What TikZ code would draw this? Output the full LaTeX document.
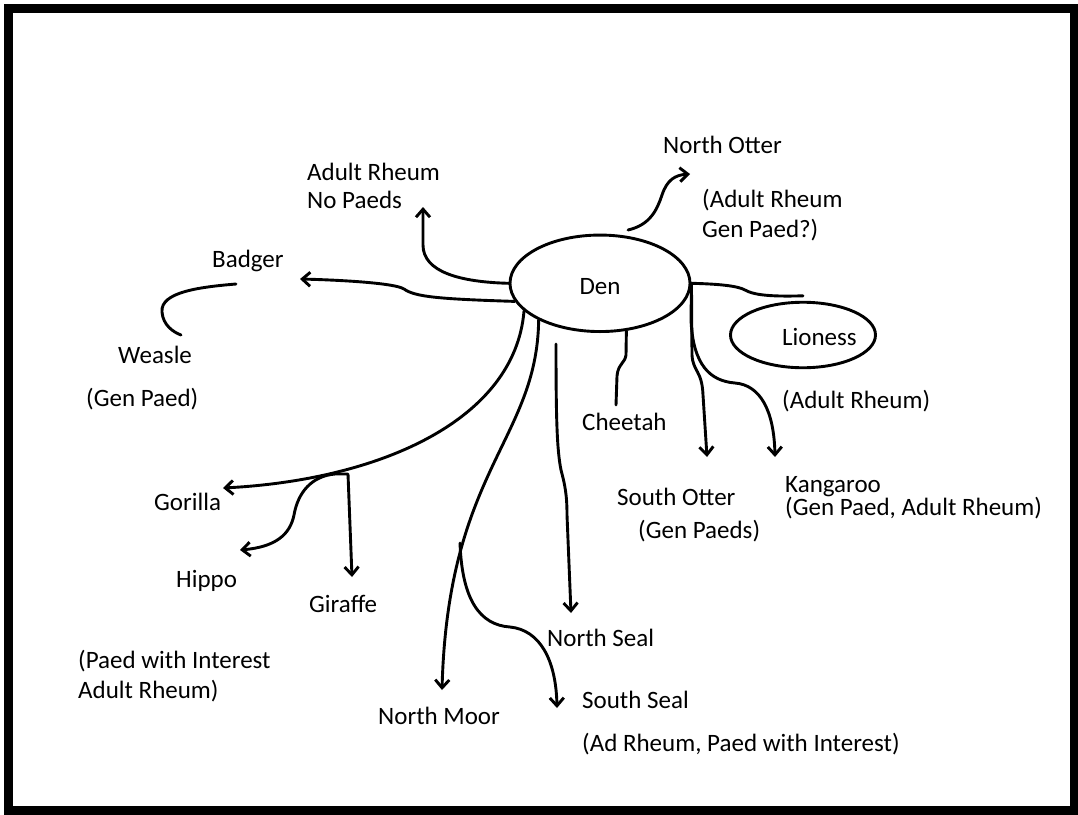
\documentclass[tikz,border=0pt]{standalone}
\usepackage{fontspec}
\setmainfont{Carlito}
\usetikzlibrary{arrows.meta,shapes.geometric}
\begin{document}
\begin{tikzpicture}[x=1pt,y=-1pt,
  conn/.style={line width=2.9pt, line cap=round, line join=round},
  tipbarb/.tip={Straight Barb[length=8pt,width=14pt]},
  arr/.style={conn, -tipbarb},
  lbl/.style={anchor=base west, inner sep=0pt, font=\fontsize{25}{30}\selectfont},
  oval/.style={ellipse, draw, line width=2.9pt, inner sep=0pt, font=\fontsize{25}{30}\selectfont}
]
\useasboundingbox (0,0) rectangle (1078,814);
% outer frame
\draw[line width=8.5pt] (8.3,8.3) rectangle (1074.3,810.3);

% central hub and the Lioness oval
\node[oval, minimum width=180pt, minimum height=96.5pt, text height=23pt, text depth=0pt] (den) at (600,283.3) {Den};
\node[oval, minimum width=145pt, minimum height=65.5pt] (lioness) at (803,335) {};

% labels
\node[lbl] (lion)   at (782,345) {Lioness};
\node[lbl] (ar1)    at (307,180) {Adult Rheum};
\node[lbl] (ar2)    at (307,208) {No Paeds};
\node[lbl] (no1)    at (663,153) {North Otter};
\node[lbl] (no2)    at (702,207) {(Adult Rheum};
\node[lbl] (no3)    at (702,237) {Gen Paed?)};
\node[lbl] (badger) at (212,267) {Badger};
\node[lbl] (weasle) at (118,363) {Weasle};
\node[lbl] (weas2)  at (86,406)  {(Gen Paed)};
\node[lbl] (cheet)  at (582,430) {Cheetah};
\node[lbl] (lionar) at (782,408) {(Adult Rheum)};
\node[lbl] (sotter) at (617,505) {South Otter};
\node[lbl] (sott2)  at (638,538) {(Gen Paeds)};
\node[lbl] (kang)   at (785,492) {Kangaroo};
\node[lbl] (kang2)  at (785,515) {(Gen Paed, Adult Rheum)};
\node[lbl] (gor)    at (154,510) {Gorilla};
\node[lbl] (hippo)  at (176,587) {Hippo};
\node[lbl] (giraf)  at (309,612) {Giraffe};
\node[lbl] (pwi1)   at (78,668)  {(Paed with Interest};
\node[lbl] (pwi2)   at (78,698)  {Adult Rheum)};
\node[lbl] (nseal)  at (547,646) {North Seal};
\node[lbl] (nmoor)  at (378,724) {North Moor};
\node[lbl] (sseal)  at (582,708) {South Seal};
\node[lbl] (sseal2) at (582,751) {(Ad Rheum, Paed with Interest)};

% connector ends
\coordinate (tAR)      at (423,207);
\coordinate (tBadger)  at (300,279);
\coordinate (tGorilla) at (223,488);
\coordinate (tHippo)   at (240,550);
\coordinate (jGiraffe) at (348,474);
\coordinate (tGiraffe) at (352,577);
\coordinate (tMoor)    at (442,690);
\coordinate (sNSeal)   at (556,344);
\coordinate (tNSeal)   at (571,613);
\coordinate (sSSeal)   at (460,543);
\coordinate (tSSeal)   at (557,708);
\coordinate (eCheetah) at (616,405);
\coordinate (tSOtter)  at (707,457);
\coordinate (tKang)    at (775,457);
\coordinate (sNOtter)  at (628,230);
\coordinate (tNOtter)  at (690,174);
\coordinate (sWeasA)   at (236,284);
\coordinate (sWeasB)   at (181,335);
\coordinate (eLion)    at ([yshift=5pt]lioness.north);

% connectors
\draw[arr] (den.west) .. controls (460,282) and (423,272) .. (423,245) -- (tAR);
\draw[arr] (den.192) .. controls (440,299) and (415,297) .. (404,289)
                     .. controls (395,283) and (340,280) .. (tBadger);
\draw[conn] (sWeasA) .. controls (200,287) and (160,292) .. (162,312)
                     .. controls (163,325) and (173,332) .. (sWeasB);
\draw[arr] (den.200) .. controls (515,420) and (380,480) .. (tGorilla);
\draw[conn, tipbarb-tipbarb]
  (tHippo) .. controls (275,547) and (290,535) .. (294,515)
           .. controls (298,492) and (312,476) .. (335,474) -- (jGiraffe) -- (tGiraffe);
\draw[arr] (den.211) .. controls (537,440) and (448,470) .. (tMoor);
\draw[arr] (sNSeal) .. controls (556,420) and (557,450) .. (561,470)
                    .. controls (565,485) and (567,495) .. (567,515) -- (tNSeal);
\draw[arr] (sSSeal) .. controls (462,600) and (480,625) .. (510,627)
                    .. controls (540,630) and (556,660) .. (tSSeal);
\draw[conn] (den.299) -- (626,355) .. controls (625,363) and (618,364) .. (617,376) -- (eCheetah);
\draw[arr] (den.east) -- (692,355) .. controls (693,372) and (702,370) .. (703,395) -- (tSOtter);
\draw[arr] (den.east) -- (691,320) .. controls (693,365) and (710,381) .. (735,383)
                      .. controls (760,385) and (774,410) .. (tKang);
\draw[conn] (den.east) .. controls (720,284) and (738,286) .. (745,290)
                       .. controls (752,294) and (765,297) .. (eLion);
\draw[arr] (sNOtter) .. controls (650,225) and (657,210) .. (662,195)
                     .. controls (667,180) and (675,175) .. (tNOtter);
\end{tikzpicture}
\end{document}
